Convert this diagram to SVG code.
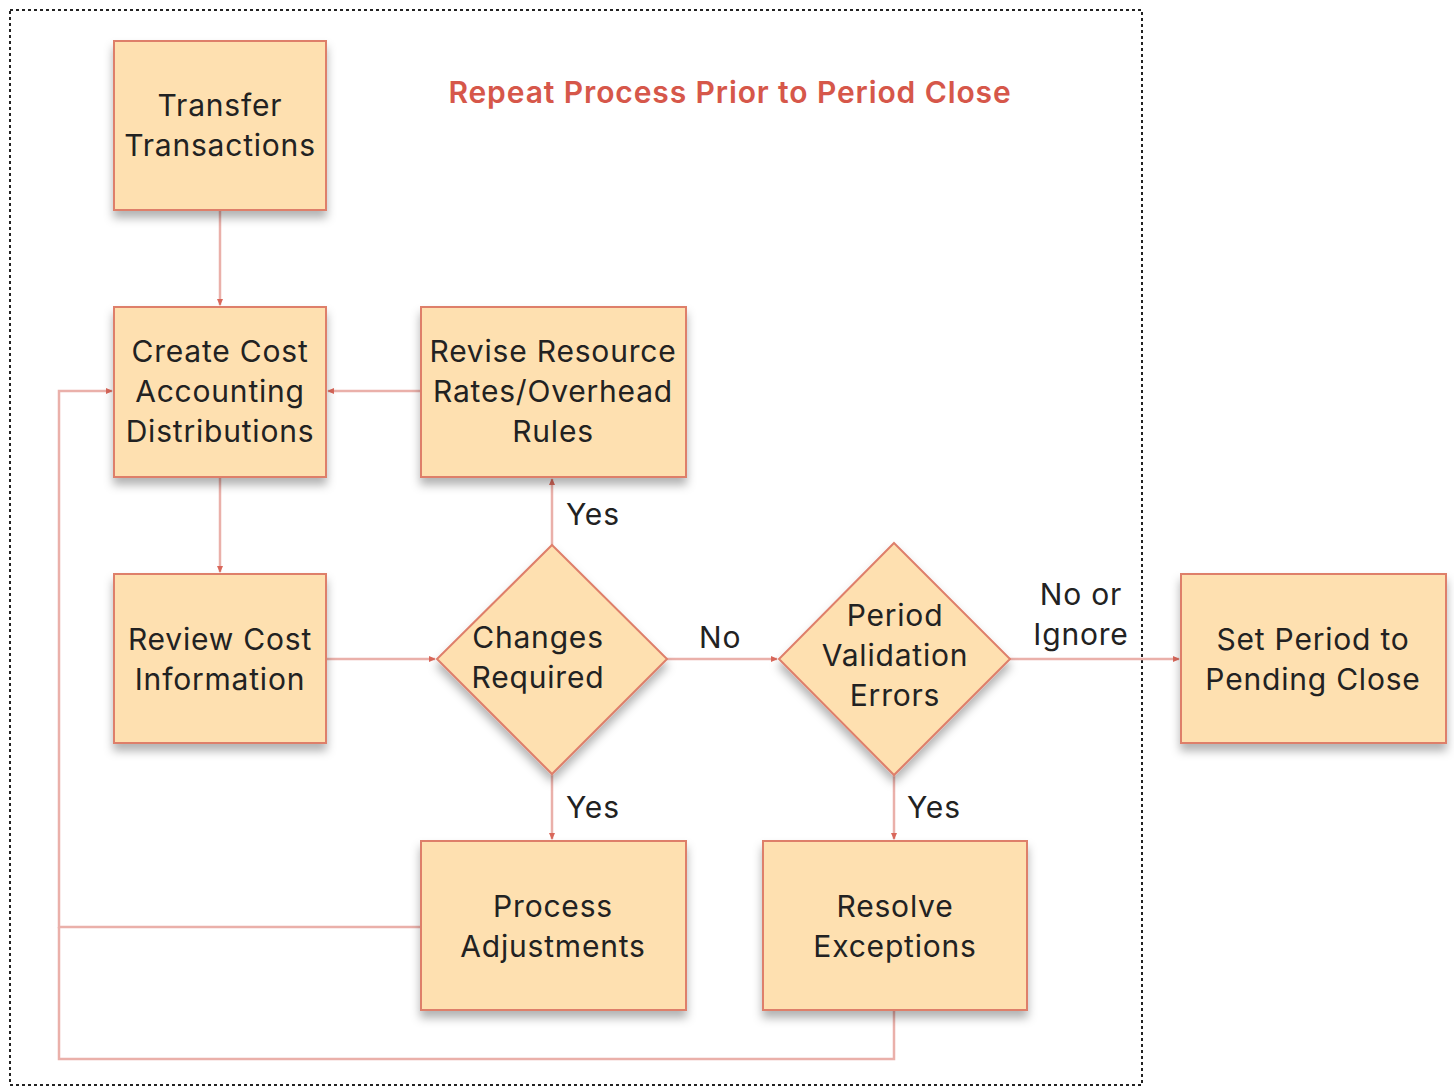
<svg xmlns="http://www.w3.org/2000/svg" width="1454" height="1087" viewBox="0 0 1454 1087">
<defs>
<filter id="sh" x="-20%" y="-20%" width="140%" height="150%">
<feDropShadow dx="0" dy="7" stdDeviation="5" flood-color="#000" flood-opacity="0.3"/>
</filter>
<marker id="ar" viewBox="0 0 8 8" refX="7" refY="4" markerWidth="7" markerHeight="7" markerUnits="userSpaceOnUse" orient="auto">
<path d="M0,0.5 L8,4 L0,7.5 z" fill="#d9675a"/>
</marker>
<style>
.box{fill:#fee0b0;stroke:#de7f6b;stroke-width:2;filter:url(#sh)}
.t{font-family:Inter,"Noto Sans","Liberation Sans",sans-serif;font-size:30px;letter-spacing:0.8px;fill:#222;text-anchor:middle}
.lbl{font-family:Inter,"Noto Sans","Liberation Sans",sans-serif;font-size:30px;letter-spacing:0.8px;fill:#222}
.c{fill:none;stroke:#eab0aa;stroke-width:2.5}
.title{font-family:Inter,"Noto Sans","Liberation Sans",sans-serif;font-size:30px;letter-spacing:0.9px;font-weight:600;fill:#d6574a;text-anchor:middle}
</style>
</defs>
<rect width="1454" height="1087" fill="#fff"/>
<rect x="10" y="10" width="1132" height="1075" fill="none" stroke="#222" stroke-width="2" stroke-dasharray="3,3"/>
<text class="title" x="730" y="103">Repeat Process Prior to Period Close</text>

<g id="connectors">
<path class="c" d="M220,210 V305" marker-end="url(#ar)"/>
<path class="c" d="M220,477 V572" marker-end="url(#ar)"/>
<path class="c" d="M421,391 H328" marker-end="url(#ar)"/>
<path class="c" d="M552,545 V479" marker-end="url(#ar)"/>
<path class="c" d="M326,659 H435" marker-end="url(#ar)"/>
<path class="c" d="M667,659 H777" marker-end="url(#ar)"/>
<path class="c" d="M1010,659 H1179" marker-end="url(#ar)"/>
<path class="c" d="M552,774 V839" marker-end="url(#ar)"/>
<path class="c" d="M894,775 V839" marker-end="url(#ar)"/>
<path class="c" d="M421,927 H59 V391 H112" marker-end="url(#ar)"/>
<path class="c" d="M894,1010 V1059 H59 V927"/>
</g>

<g id="transfer">
<rect class="box" x="114" y="41" width="212" height="169"/>
<text class="t" x="220" y="116">Transfer</text>
<text class="t" x="220" y="156">Transactions</text>
</g>
<g id="create">
<rect class="box" x="114" y="307" width="212" height="170"/>
<text class="t" x="220" y="362">Create Cost</text>
<text class="t" x="220" y="402">Accounting</text>
<text class="t" x="220" y="442">Distributions</text>
</g>
<g id="review">
<rect class="box" x="114" y="574" width="212" height="169"/>
<text class="t" x="220" y="650">Review Cost</text>
<text class="t" x="220" y="690">Information</text>
</g>
<g id="revise">
<rect class="box" x="421" y="307" width="265" height="170"/>
<text class="t" x="553" y="362">Revise Resource</text>
<text class="t" x="553" y="402">Rates/Overhead</text>
<text class="t" x="553" y="442">Rules</text>
</g>
<g id="changes">
<polygon class="box" points="552,545 667,659 552,774 437,659"/>
<text class="t" x="538" y="648">Changes</text>
<text class="t" x="538" y="688">Required</text>
</g>
<g id="validation">
<polygon class="box" points="894,543 1010,659 894,775 779,659"/>
<text class="t" x="895" y="626">Period</text>
<text class="t" x="895" y="666">Validation</text>
<text class="t" x="895" y="706">Errors</text>
</g>
<g id="pending">
<rect class="box" x="1181" y="574" width="265" height="169"/>
<text class="t" x="1313" y="650">Set Period to</text>
<text class="t" x="1313" y="690">Pending Close</text>
</g>
<g id="adjust">
<rect class="box" x="421" y="841" width="265" height="169"/>
<text class="t" x="553" y="917">Process</text>
<text class="t" x="553" y="957">Adjustments</text>
</g>
<g id="resolve">
<rect class="box" x="763" y="841" width="264" height="169"/>
<text class="t" x="895" y="917">Resolve</text>
<text class="t" x="895" y="957">Exceptions</text>
</g>

<g id="labels">
<text class="lbl" x="566" y="525">Yes</text>
<text class="lbl" x="699" y="648">No</text>
<text class="t" x="1081" y="605">No or</text>
<text class="t" x="1081" y="645">Ignore</text>
<text class="lbl" x="566" y="818">Yes</text>
<text class="lbl" x="907" y="818">Yes</text>
</g>
</svg>
